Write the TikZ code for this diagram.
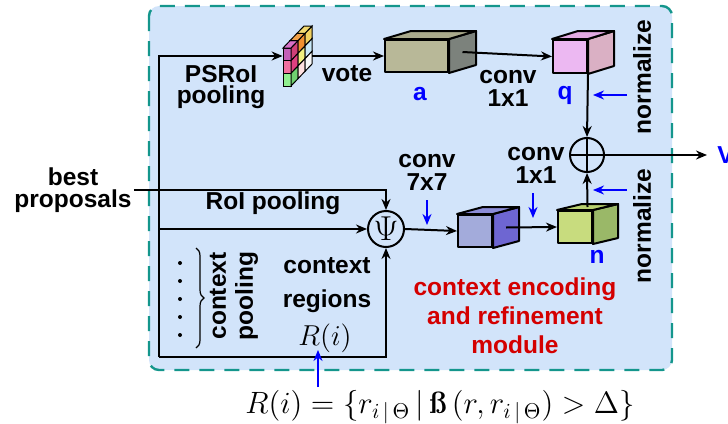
\documentclass[tikz,border=0pt]{standalone}
\usepackage{fontspec}
\setsansfont{Liberation Sans}
\usetikzlibrary{arrows.meta,calc,positioning,decorations.pathreplacing}

\definecolor{panelfill}{RGB}{210,228,250}
\definecolor{paneledge}{RGB}{20,150,140}
\definecolor{modred}{RGB}{212,0,0}
\definecolor{aFront}{RGB}{184,184,152}
\definecolor{aSide}{RGB}{124,130,124}
\definecolor{aTop}{RGB}{170,170,140}
\definecolor{qFront}{RGB}{236,184,242}
\definecolor{qSide}{RGB}{218,176,196}
\definecolor{qTop}{RGB}{226,170,226}
\definecolor{eFront}{RGB}{163,171,219}
\definecolor{eSide}{RGB}{110,102,210}
\definecolor{eTop}{RGB}{140,140,216}
\definecolor{nFront}{RGB}{200,220,126}
\definecolor{nSide}{RGB}{154,184,104}
\definecolor{nTop}{RGB}{184,208,112}

\tikzset{
    >={Stealth[length=5.5pt,width=4.5pt]}, % filled arrow heads
    lbl/.style={font=\sffamily\bfseries\fontsize{12.25}{10.8}\selectfont, align=center, inner sep=1pt},
    vname/.style={lbl, text=blue},
    front/.style={draw, line width=1pt, inner sep=0pt, line join=round},
    hint/.style={->, blue, line width=1pt}, % small blue pointers
    cell/.style={draw, line width=0.5pt},
}
\tikzstyle{arrow} = [line width=1pt, ->]

% side and top faces of a feature block, drawn from its front node
\newcommand{\blockfaces}[4]{%
    \filldraw[fill=#3, line width=1pt, line join=round] (#1.south east) -- ($(#1.south east)+(#2)$)
        -- ($(#1.north east)+(#2)$) -- (#1.north east) -- cycle;
    \filldraw[fill=#4, line width=1pt, line join=round] (#1.north west) -- ($(#1.north west)+(#2)$)
        -- ($(#1.north east)+(#2)$) -- (#1.north east) -- cycle;
    \coordinate (#1-side) at ($(#1.east)+0.5*(#2)$);
    \coordinate (#1-top) at ($(#1.north)+0.5*(#2)$);
}

\begin{document}
\begin{tikzpicture}[x=0.5pt, y=-0.5pt]
    \useasboundingbox (0,0) rectangle (728,423);

    % module panel
    \draw[fill=panelfill, draw=paneledge, line width=1.2pt, dash pattern=on 7.5pt off 5pt,
        rounded corners=5pt] (149,6) rectangle (672,370);

    % position sensitive score maps
    \foreach \i/\c in {0/{rgb,255:red,196;green,96;blue,184},1/{rgb,255:red,240;green,112;blue,160},2/{rgb,255:red,144;green,240;blue,144}}
        \filldraw[cell, fill={\c}] (283,{48+12.67*\i}) rectangle ++(8,12.67);
    \foreach \i/\j/\c in {0/0/{rgb,255:red,208;green,64;blue,120},0/1/{rgb,255:red,240;green,144;blue,48},0/2/{rgb,255:red,240;green,208;blue,96},
                          1/0/{rgb,255:red,224;green,64;blue,128},1/1/{rgb,255:red,240;green,240;blue,128},1/2/{rgb,255:red,200;green,232;blue,248},
                          2/0/{rgb,255:red,112;green,208;blue,112},2/1/{rgb,255:red,255;green,224;blue,224},2/2/{rgb,255:red,248;green,248;blue,248}}
        \filldraw[cell, fill={\c}] ({291+7*\j},{48+12.67*\i-7.33*\j}) -- ++(7,-7.33) -- ++(0,12.67) -- ++(-7,7.33) -- cycle;
    \foreach \j/\c in {0/{rgb,255:red,216;green,112;blue,200},1/{rgb,255:red,240;green,160;blue,72},2/{rgb,255:red,240;green,216;blue,112}}
        \filldraw[cell, fill={\c}] ({283+7*\j},{48-7.33*\j}) -- ++(7,-7.33) -- ++(8,0) -- ++(-7,7.33) -- cycle;
    \node[minimum width=14.5pt, minimum height=30.5pt, inner sep=0pt] (psroi) at (297.5,56) {};

    % feature blocks
    \node[front, fill=aFront, minimum width=31.5pt, minimum height=16pt] (a) at (416.5,56) {};
    \blockfaces{a}{27,-8}{aSide}{aTop}
    \node[front, fill=qFront, minimum width=17pt, minimum height=16.5pt] (q) at (570,56.5) {};
    \blockfaces{q}{26,-8}{qSide}{qTop}
    \node[front, fill=eFront, minimum width=17pt, minimum height=16pt] (enc) at (475,231) {};
    \blockfaces{enc}{26,-7}{eSide}{eTop}
    \node[front, fill=nFront, minimum width=17pt, minimum height=16pt] (n) at (575,227) {};
    \blockfaces{n}{25,-6}{nSide}{nTop}

    % fusion operators
    \node[draw, circle, line width=1pt, minimum size=18pt, inner sep=0pt] (psi) at (386,229)
        {\fontsize{17}{17}\selectfont$\Psi$};
    \node[draw, circle, line width=1pt, minimum size=17pt, inner sep=0pt] (plus) at (587,155) {};
    \draw[line width=1pt] (plus.north) -- (plus.south) (plus.west) -- (plus.east);

    % inputs and outputs
    \node[lbl] (best) at (73,190) {best\\proposals};
    \node[vname, anchor=west] (v) at (715,155) {V};
    \coordinate (bot) at (159,357);

    % texts
    \node[lbl] (psroilbl) at (221,87) {PSRoI\\pooling};
    \node[lbl] (vote) at (347,74) {vote};
    \node[vname] (alb) at (420,94) {a};
    \node[lbl, font=\sffamily\bfseries\fontsize{12.25}{11.5}\selectfont] (conv1) at (508,88) {conv\\1x1};
    \node[vname] (qlb) at (565,95) {q};
    \node[lbl, rotate=90] (norm1) at (642,77) {normalize};
    \node[lbl, font=\sffamily\bfseries\fontsize{12.25}{11.5}\selectfont] (conv2) at (536,165) {conv\\1x1};
    \node[lbl, rotate=90] (norm2) at (642,226) {normalize};
    \node[lbl, font=\sffamily\bfseries\fontsize{12.25}{11.5}\selectfont] (conv7) at (427,172) {conv\\7x7};
    \node[vname] (nlb) at (597,257) {n};
    \node[lbl] (roi) at (273,203) {RoI pooling};
    \node[lbl, rotate=90, font=\sffamily\bfseries\fontsize{12.25}{13.5}\selectfont] (ctxpool) at (234,296) {context\\pooling};
    \node[lbl, font=\sffamily\bfseries\fontsize{12.25}{17}\selectfont] (ctxreg) at (327,285) {context\\regions};
    \node (rlb) at (325,338) {\fontsize{13.5}{13.5}\selectfont$R(i)$};
    \node[lbl, text=modred, font=\sffamily\bfseries\fontsize{12.25}{14.5}\selectfont] (module) at (515,316)
        {context encoding\\and refinement\\module};
    \node[scale=1.07] (rdef) at (440,407) {\fontsize{14.4}{14.4}\selectfont
        $R(i) = \big\{ r_{i\,|\,\Theta} \,|\, \mbox{\bfseries\ss}\,(r, r_{i\,|\,\Theta}) > \Delta \big\}$};

    % context pooling dots and brace
    \foreach \y in {263,281,299,317,335}
        \fill (180,\y) circle (1pt);
    \draw[line width=0.6pt, decorate, decoration={brace, amplitude=4pt}] (196,248) -- (196,348);

    % connections
    \draw[arrow] (bot) |- (psroi.west);
    \draw[arrow] (psroi.east) -- (a.west);
    \draw[arrow] (a-side) -- (q.west);
    \draw[arrow] (q.south east) -- (plus.north);
    \draw[arrow] (plus.east) -- ([xshift=-4pt]v.west);
    \draw[arrow] (best.east) -| (psi.north);
    \draw[arrow] (bot |- psi) -- (psi.west);
    \draw[arrow] (bot) -| (psi.south);
    \draw[arrow] (psi.east) -- (enc.west);
    \draw[arrow] (enc-side) -- (n.west);
    \draw[arrow] (n-top) -- (plus.south);

    % blue pointers
    \coordinate (h1) at (627,95);  \coordinate (h1e) at (593,95);
    \coordinate (h2) at (627,190); \coordinate (h2e) at (593,190);
    \coordinate (h3) at (427,200); \coordinate (h3e) at (427,225);
    \coordinate (h4) at (533,193); \coordinate (h4e) at (533,218);
    \coordinate (h5) at (318,387); \coordinate (h5e) at (318,350);
    \foreach \s in {1,...,5}
        \draw[hint] (h\s) -- (h\s e);
\end{tikzpicture}
\end{document}
